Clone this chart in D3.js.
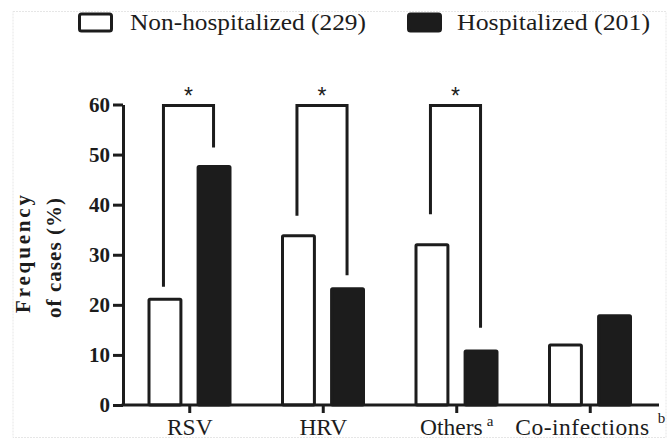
<!DOCTYPE html>
<html>
<head>
<meta charset="utf-8">
<script src="https://cdn.jsdelivr.net/npm/d3@7"></script>
<style>
  body { margin: 0; background: #fff; }
  svg { display: block; }
  .serif { font-family: "Liberation Serif", "Times New Roman", Times, serif; }
</style>
</head>
<body>
<div id="chart"></div>
<script>
// Data
const categories = ["RSV", "HRV", "Others", "Co-infections"];
const superscripts = ["", "", "a", "b"];
const groups = ["Non-hospitalized (229)", "Hospitalized (201)"];
const nonHospitalized = [21.4, 34.1, 32.3, 12.3];
const hospitalized = [47.9, 23.5, 11.1, 18.1];
const yTicks = [0, 10, 20, 30, 40, 50, 60];

// Significance brackets: category, left leg end, right leg end (in %)
const bracketCats = ["RSV", "HRV", "Others"];
const bracketLeft = [23.6, 37.8, 38.1];
const bracketRight = [51.4, 25.9, 15.4];
const bracketTop = 59.8;

const W = 672, H = 439;
const ink = "#1c1c1c";

const svg = d3.select("#chart")
    .append("svg")
    .attr("width", W)
    .attr("height", H);

// faint frame around the figure
svg.append("rect")
    .attr("x", 13).attr("y", 11.5)
    .attr("width", 653).attr("height", 426)
    .attr("fill", "none")
    .attr("stroke", "#e6e6e6")
    .attr("stroke-width", 1)
    .attr("stroke-dasharray", "2,1");

// Scales
const x0 = d3.scaleBand().domain(categories).range([123, 657]).padding(0);
const x1 = d3.scaleBand().domain(groups).range([26, 107]).paddingInner(0.35);
const y = d3.scaleLinear().domain([0, 60]).range([405, 104.5]);

const rows = categories.map((c, i) => ({
    cat: c,
    vals: [
        {g: groups[0], v: nonHospitalized[i]},
        {g: groups[1], v: hospitalized[i]}
    ]
}));

// Bars
const gBars = svg.append("g");
rows.forEach(r => {
    gBars.selectAll(null)
        .data(r.vals)
        .join("rect")
        .attr("x", d => x0(r.cat) + x1(d.g))
        .attr("y", d => y(d.v) + 1.5)
        .attr("width", x1.bandwidth())
        .attr("height", d => y(0) - y(d.v) - 1.5)
        .attr("rx", 1)
        .attr("fill", d => d.g === groups[0] ? "#fff" : ink)
        .attr("stroke", ink)
        .attr("stroke-width", 3);
});

// Y axis
const yAxis = svg.append("g")
    .attr("transform", "translate(123,0)")
    .call(d3.axisLeft(y).tickValues(yTicks).tickSize(10).tickSizeOuter(0).tickPadding(3));
yAxis.select(".domain").attr("stroke", ink).attr("stroke-width", 3);
yAxis.selectAll(".tick line").attr("stroke", ink).attr("stroke-width", 3);
yAxis.selectAll(".tick text")
    .attr("class", "serif")
    .attr("fill", ink)
    .style("font-weight", "bold")
    .style("font-size", "21px");

// X axis
const xAxis = svg.append("g")
    .attr("transform", "translate(0,405)")
    .call(d3.axisBottom(x0).tickSize(8).tickSizeOuter(0).tickPadding(3));
xAxis.select(".domain").attr("stroke", ink).attr("stroke-width", 3)
    .attr("d", "M121.5,0H659");
xAxis.selectAll(".tick line").attr("stroke", ink).attr("stroke-width", 3);
xAxis.selectAll(".tick text")
    .attr("class", "serif")
    .attr("fill", ink)
    .attr("dy", "0.82em")
    .style("font-size", "23.5px")
    .each(function(d, i) {
        const sup = superscripts[i];
        if (!sup) return;
        const t = d3.select(this);
        t.text(null);
        const main = t.append("tspan").text(d);
        if (i === 3) main.attr("textLength", 134).attr("lengthAdjust", "spacing");
        t.append("tspan")
            .text(sup)
            .attr("dx", i === 3 ? 8 : 4)
            .attr("dy", i === 3 ? -12 : -9)
            .style("font-size", "15px");
    });

// Y axis title
const title = svg.append("text")
    .attr("class", "serif")
    .attr("transform", "rotate(-90)")
    .attr("fill", ink)
    .style("font-weight", "bold")
    .style("font-size", "21px")
    .attr("text-anchor", "middle");
title.append("tspan").attr("x", -254).attr("y", 30)
    .attr("textLength", 118).attr("lengthAdjust", "spacing")
    .text("Frequency");
title.append("tspan").attr("x", -258).attr("y", 61)
    .attr("textLength", 120).attr("lengthAdjust", "spacing")
    .text("of cases (%)");

// Significance brackets
const gBr = svg.append("g")
    .attr("fill", "none")
    .attr("stroke", ink)
    .attr("stroke-width", 3);
bracketCats.forEach((c, i) => {
    const xl = x0(c) + x1(groups[0]) + x1.bandwidth() / 2 - 1.5;
    const xr = x0(c) + x1(groups[1]) + x1.bandwidth() / 2 - 0.5;
    gBr.append("path")
        .attr("d", `M${xl},${y(bracketLeft[i])}V${y(bracketTop)}H${xr}V${y(bracketRight[i])}`);
    svg.append("text")
        .attr("x", (xl + xr) / 2)
        .attr("y", y(bracketTop) - 2)
        .attr("text-anchor", "middle")
        .attr("fill", ink)
        .style("font-family", "'Liberation Sans', Arial, sans-serif")
        .style("font-size", "23px")
        .text("*");
});

// Legend
const legendX = [78, 407];
const legendTextX = [130, 457];
const legendTextLen = [236, 193];
groups.forEach((g, i) => {
    svg.append("rect")
        .attr("x", legendX[i] + 1.5).attr("y", 14)
        .attr("width", 32).attr("height", 17)
        .attr("rx", 2)
        .attr("fill", i === 0 ? "#fff" : ink)
        .attr("stroke", ink)
        .attr("stroke-width", 3);
    svg.append("text")
        .attr("class", "serif")
        .attr("x", legendTextX[i])
        .attr("y", 30)
        .attr("fill", ink)
        .attr("textLength", legendTextLen[i])
        .attr("lengthAdjust", "spacingAndGlyphs")
        .style("font-size", "22.5px")
        .text(g);
});
</script>
</body>
</html>
